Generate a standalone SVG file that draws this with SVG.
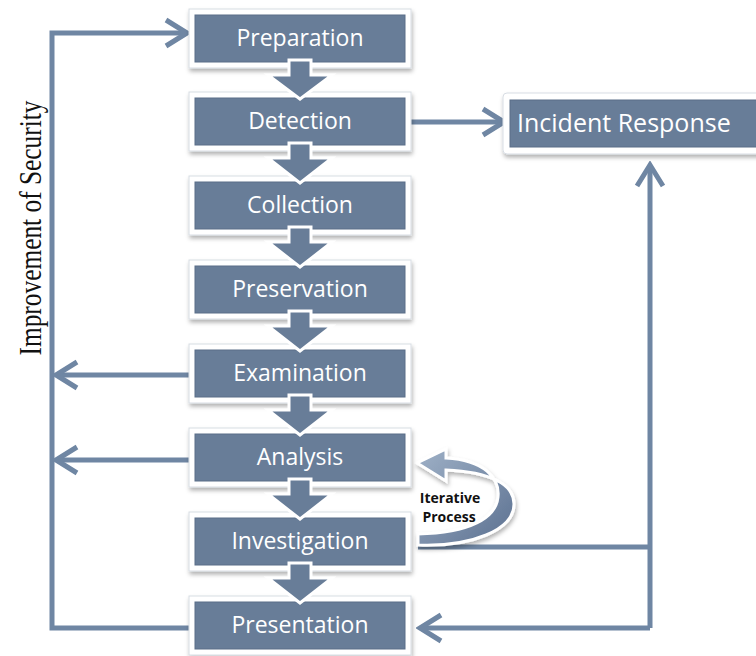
<svg xmlns="http://www.w3.org/2000/svg" width="756" height="656" viewBox="0 0 756 656">
<defs>
<style>
.box{fill:#687d98;stroke:#5a6e88;stroke-width:1}
.frame{fill:#ffffff;stroke:#d8dde4;stroke-width:1}
.lbl{font-family:"Open Sans","Liberation Sans",sans-serif;font-size:23px;fill:#ffffff;text-anchor:middle}
.conn{fill:none;stroke:#6f86a3;stroke-width:5}
.darr{fill:#687d98;stroke:#ffffff;stroke-width:3;stroke-linejoin:miter}
</style>
<filter id="sh" x="-10%" y="-20%" width="120%" height="150%">
<feDropShadow dx="1" dy="3" stdDeviation="2" flood-color="#000" flood-opacity="0.3"/>
</filter>
<marker id="chev" viewBox="-26 -18 30 36" refX="0" refY="0" markerWidth="30" markerHeight="36" markerUnits="userSpaceOnUse" orient="auto">
<path d="M-21,-13 L0,0 L-21,13" fill="none" stroke="#6f86a3" stroke-width="5"/>
</marker>
<linearGradient id="ig" x1="0" y1="0" x2="1" y2="1">
<stop offset="0" stop-color="#9fb1c7"/>
<stop offset="1" stop-color="#5b7090"/>
</linearGradient>
</defs>

<g id="connectors">
<path class="conn" d="M195,628 H52 V33 H187" marker-end="url(#chev)"/>
<path class="conn" d="M195,375 H56" marker-end="url(#chev)"/>
<path class="conn" d="M195,460 H56" marker-end="url(#chev)"/>
<path class="conn" d="M405,122 H504" marker-end="url(#chev)"/>
<path class="conn" d="M418,547 H650"/>
<path class="conn" d="M650,628 V165" marker-end="url(#chev)"/>
<path class="conn" d="M650,628 H420" marker-end="url(#chev)"/>
</g>

<g id="iterative">
<path d="M418,545 C472,547 514,530 514,504 C514,484 490,472 446,470 L446,481 L417,463 L446,449 L446,458 C484,460 500,478 498,497 C496,518 470,533 418,534 Z" fill="url(#ig)" stroke="#ffffff" stroke-width="3" filter="url(#sh)"/>
<text x="450" y="503" font-family="'Open Sans','Liberation Sans',sans-serif" font-size="14" font-weight="bold" fill="#111" text-anchor="middle">Iterative</text>
<text x="449" y="522" font-family="'Open Sans','Liberation Sans',sans-serif" font-size="14" font-weight="bold" fill="#111" text-anchor="middle">Process</text>
</g>

<g id="preparation"><rect class="frame" x="189" y="9" width="222" height="59" filter="url(#sh)"/><rect class="box" x="195" y="15" width="210" height="47"/><text class="lbl" x="300" y="46">Preparation</text></g>
<g id="detection"><rect class="frame" x="189" y="92" width="222" height="59" filter="url(#sh)"/><rect class="box" x="195" y="98" width="210" height="47"/><text class="lbl" x="300" y="129">Detection</text></g>
<g id="collection"><rect class="frame" x="189" y="176" width="222" height="59" filter="url(#sh)"/><rect class="box" x="195" y="182" width="210" height="47"/><text class="lbl" x="300" y="213">Collection</text></g>
<g id="preservation"><rect class="frame" x="189" y="260" width="222" height="59" filter="url(#sh)"/><rect class="box" x="195" y="266" width="210" height="47"/><text class="lbl" x="300" y="297">Preservation</text></g>
<g id="examination"><rect class="frame" x="189" y="344" width="222" height="59" filter="url(#sh)"/><rect class="box" x="195" y="350" width="210" height="47"/><text class="lbl" x="300" y="381">Examination</text></g>
<g id="analysis"><rect class="frame" x="189" y="428" width="222" height="59" filter="url(#sh)"/><rect class="box" x="195" y="434" width="210" height="47"/><text class="lbl" x="300" y="465">Analysis</text></g>
<g id="investigation"><rect class="frame" x="189" y="512" width="222" height="59" filter="url(#sh)"/><rect class="box" x="195" y="518" width="210" height="47"/><text class="lbl" x="300" y="549">Investigation</text></g>
<g id="presentation"><rect class="frame" x="189" y="596" width="222" height="59" filter="url(#sh)"/><rect class="box" x="195" y="602" width="210" height="47"/><text class="lbl" x="300" y="633">Presentation</text></g>
<g id="incident-response"><rect class="frame" x="503" y="93" width="262" height="61" rx="4" filter="url(#sh)"/><rect class="box" x="510" y="100" width="250" height="47"/><text class="lbl" x="517" y="132" style="text-anchor:start;font-size:25px">Incident Response</text></g>

<g id="flow-arrows">
<polygon class="darr" points="289,60 311,60 311,75 332,75 300,99 268,75 289,75"/>
<polygon class="darr" points="289,143 311,143 311,158 332,158 300,183 268,158 289,158"/>
<polygon class="darr" points="289,227 311,227 311,242 332,242 300,267 268,242 289,242"/>
<polygon class="darr" points="289,311 311,311 311,326 332,326 300,351 268,326 289,326"/>
<polygon class="darr" points="289,395 311,395 311,410 332,410 300,435 268,410 289,410"/>
<polygon class="darr" points="289,479 311,479 311,494 332,494 300,519 268,494 289,494"/>
<polygon class="darr" points="289,563 311,563 311,578 332,578 300,603 268,578 289,578"/>
</g>

<g id="side-label">
<text transform="translate(41,228) rotate(-90)" font-family="'Liberation Serif',serif" font-size="31" fill="#111" text-anchor="middle" textLength="255" lengthAdjust="spacingAndGlyphs">Improvement of Security</text>
</g>
</svg>
